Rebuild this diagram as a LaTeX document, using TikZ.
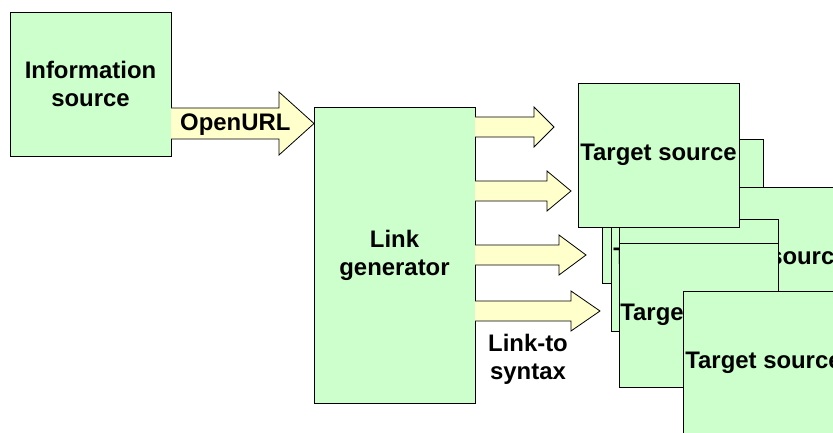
\documentclass[tikz,border=0pt]{standalone}
\usepackage{fontspec}
\setmainfont{Liberation Sans}
\definecolor{boxgreen}{RGB}{204,255,204}
\definecolor{arrowyellow}{RGB}{255,255,204}
\newcommand{\blockarrow}[6]{% x0, x1, xtip, yc, shaft half, head half
  \filldraw[fill=arrowyellow,draw=black,line width=0.8pt,line join=miter]
    (#1,#4-#5) -- (#2,#4-#5) -- (#2,#4-#6) -- (#3,#4) -- (#2,#4+#6) -- (#2,#4+#5) -- (#1,#4+#5);}
\begin{document}
\begin{tikzpicture}[x=1pt,y=-1pt,
  box/.style={draw=black,fill=boxgreen,line width=0.8pt,inner sep=0pt,align=center,
    font=\fontsize{23.9}{28}\selectfont\bfseries},
  lbl/.style={inner sep=0pt,align=center,font=\fontsize{23.9}{28}\selectfont\bfseries}]
\useasboundingbox (0,0) rectangle (833,433);
\clip (0,0) rectangle (833,433);
% information source
\node[box,minimum width=161pt,minimum height=144pt] (info) at (90.5,84) {Information\\source};
% OpenURL arrow
\blockarrow{171}{279}{314}{123.5}{15.5}{31.5}
\node[lbl,anchor=west] (openurl) at (180,125) {OpenURL};
% link generator
\node[box,minimum width=161pt,minimum height=296pt] (linkgen) at (394.5,255) {Link\\generator};
% link-to arrows
\blockarrow{475}{534}{554}{127}{10}{20}
\blockarrow{475}{547}{571}{191}{10}{20}
\blockarrow{475}{559}{586}{255}{10}{20}
\blockarrow{475}{571}{600}{311}{10}{20}
\node[lbl] (linkto) at (528,359) {Link-to\\syntax};
% target sources (back to front)
\tikzset{tgt/.style={box,minimum width=161pt,minimum height=144pt}}
\node[tgt] (tB) at (682.5,211) {Target source};
\node[tgt] (tC) at (691.5,259) {Target source};
\node[tgt] (tE) at (769.5,259) {Target source};
\node[tgt,minimum width=159pt] (tD1) at (698.5,291) {Target source};
\node[tgt,minimum width=159pt] (tD2) at (698.5,315) {Target source};
\node[tgt] (tF) at (763.5,363) {Target source};
\node[tgt] (tA) at (658.5,155) {Target source};
\end{tikzpicture}
\end{document}
